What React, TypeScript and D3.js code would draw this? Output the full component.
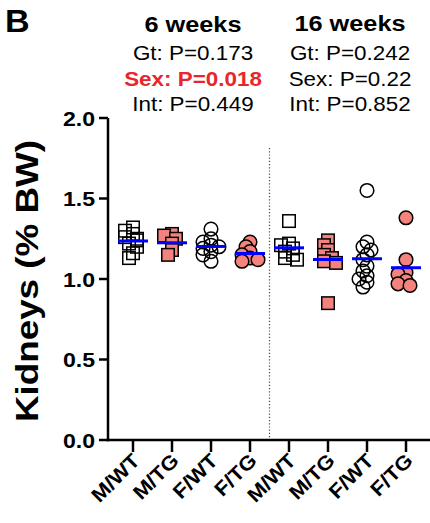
import React from "react";
import * as d3 from "d3";

const categories = ["M/WT", "M/TG", "F/WT", "F/TG", "M/WT ", "M/TG ", "F/WT ", "F/TG "];
const labels = ["M/WT", "M/TG", "F/WT", "F/TG", "M/WT", "M/TG", "F/WT", "F/TG"];
const shapes = ["square", "square", "circle", "circle", "square", "square", "circle", "circle"];
const filled = [false, true, false, true, false, true, false, true];

const mwt6 = [1.32, 1.30, 1.28, 1.26, 1.25, 1.24, 1.22, 1.20, 1.16, 1.13];
const mtg6 = [1.28, 1.27, 1.25, 1.22, 1.18, 1.15];
const fwt6 = [1.31, 1.25, 1.23, 1.21, 1.20, 1.19, 1.17, 1.15, 1.11];
const ftg6 = [1.23, 1.20, 1.17, 1.15, 1.13, 1.12, 1.11];
const mwt16 = [1.36, 1.22, 1.21, 1.19, 1.17, 1.15, 1.13, 1.12];
const mtg16 = [1.24, 1.21, 1.18, 1.15, 1.13, 1.11, 1.10, 0.85];
const fwt16 = [1.55, 1.23, 1.20, 1.18, 1.15, 1.12, 1.08, 1.05, 1.02, 1.00, 0.98, 0.95];
const ftg16 = [1.38, 1.12, 1.04, 1.03, 0.99, 0.97, 0.96];
const series = [mwt6, mtg6, fwt6, ftg6, mwt16, mtg16, fwt16, ftg16];

const yTicks = [0, 0.5, 1.0, 1.5, 2.0];
const titles = ["6 weeks", "16 weeks"];
const stats6 = ["Gt: P=0.173", "Sex: P=0.018", "Int: P=0.449"];
const stats16 = ["Gt: P=0.242", "Sex: P=0.22", "Int: P=0.852"];
const highlight6 = [false, true, false];
const highlight16 = [false, false, false];

const FONT = "'Liberation Sans', Arial, Helvetica, sans-serif";
const PINK = "#f4837d";
const BLUE = "#0000ff";

function T(props: any) {
  const { x, y, rot = 0, sx = 1.15, anchor = "start", size, weight = "normal", fill = "#000", children } = props;
  return (
    <text
      transform={`translate(${x},${y}) rotate(${rot}) scale(${sx},1)`}
      textAnchor={anchor}
      fontSize={size}
      fontWeight={weight}
      fill={fill}
      fontFamily={FONT}
    >
      {children}
    </text>
  );
}

function swarm(vals: number[], y: (v: number) => number, minDist: number, step: number, maxOff: number) {
  const idx = vals.map((v, i) => i).sort((a, b) => vals[b] - vals[a]);
  const placed: { x: number; y: number }[] = [];
  const out: number[] = new Array(vals.length).fill(0);
  for (const i of idx) {
    const py = y(vals[i]);
    let chosen = 0;
    let found = false;
    for (let k = 0; k <= Math.round(maxOff / step) * 2; k++) {
      const off = (k % 2 === 0 ? 1 : -1) * Math.ceil(k / 2) * step;
      const ok = placed.every((p) => Math.hypot(p.x - off, p.y - py) >= minDist);
      if (ok) {
        chosen = off;
        found = true;
        break;
      }
    }
    if (!found) chosen = ((placed.length % 3) - 1) * step;
    placed.push({ x: chosen, y: py });
    out[i] = chosen;
  }
  return out;
}

export default function App() {
  const W = 430;
  const H = 523;
  const axisX = 108;
  const axisY = 440;
  const y = d3.scaleLinear().domain([0, 2]).range([440, 118]);
  const x = d3.scalePoint<string>().domain(categories).range([133, 406]);
  const divider = (x(categories[3])! + x(categories[4])!) / 2;
  const sq = 12.5;
  const r = 6.8;
  const meanHalf = 15;

  return (
    <svg width={W} height={H} style={{ position: "fixed", left: 0, top: 0, background: "#fff" }}>
      <rect width={W} height={H} fill="#fff" />
      <T x={5} y={32} size={31} weight="bold" sx={1.1}>B</T>

      <T x={193} y={32} size={22} weight="bold" anchor="middle">{titles[0]}</T>
      <T x={350} y={31} size={22} weight="bold" anchor="middle">{titles[1]}</T>
      {stats6.map((s, i) => (
        <T key={"a" + i} x={193} y={60 + i * 25.5} size={19.5} anchor="middle"
          weight={highlight6[i] ? "bold" : "normal"} fill={highlight6[i] ? "#e8262b" : "#000"}>{s}</T>
      ))}
      {stats16.map((s, i) => (
        <T key={"b" + i} x={350} y={60 + i * 25.5} size={19.5} anchor="middle"
          weight={highlight16[i] ? "bold" : "normal"} fill={highlight16[i] ? "#e8262b" : "#000"}>{s}</T>
      ))}

      <line x1={divider} x2={divider} y1={148} y2={axisY} stroke="#444" strokeWidth={1.2} strokeDasharray="1.2,2" />

      <line x1={axisX} x2={axisX} y1={y(2)} y2={axisY + 1.25} stroke="#000" strokeWidth={2.5} />
      {yTicks.map((t) => (
        <g key={t}>
          <line x1={axisX - 9} x2={axisX} y1={y(t)} y2={y(t)} stroke="#000" strokeWidth={2.5} />
          <T x={axisX - 13} y={y(t) + 7.5} size={21} weight="bold" anchor="end" sx={1.1}>{t.toFixed(1)}</T>
        </g>
      ))}
      <T x={38} y={(y(0) + y(2)) / 2 + 2} size={32} weight="bold" anchor="middle" rot={-90}>Kidneys (% BW)</T>

      <line x1={axisX - 1.25} x2={W} y1={axisY} y2={axisY} stroke="#000" strokeWidth={2.5} />
      {categories.map((c, i) => (
        <g key={c}>
          <line x1={x(c)} x2={x(c)} y1={axisY} y2={axisY + 12} stroke="#000" strokeWidth={2.5} />
          <T x={x(c)! + 8} y={axisY + 22} size={20} weight="bold" anchor="end" rot={-45} sx={1.1}>{labels[i]}</T>
        </g>
      ))}

      {series.map((vals, gi) => {
        const cx = x(categories[gi])!;
        const offs = swarm(vals, (v) => y(v), 6, 4, 9);
        const fill = filled[gi] ? PINK : "none";
        return (
          <g key={"g" + gi}>
            {vals.map((v, i) =>
              shapes[gi] === "square" ? (
                <rect key={i} x={cx + offs[i] - sq / 2} y={y(v) - sq / 2} width={sq} height={sq}
                  fill={fill} stroke="#000" strokeWidth={1.5} />
              ) : (
                <circle key={i} cx={cx + offs[i]} cy={y(v)} r={r} fill={filled[gi] ? PINK : "none"}
                  stroke="#000" strokeWidth={1.5} />
              )
            )}
            <line x1={cx - meanHalf} x2={cx + meanHalf} y1={y(d3.mean(vals)!)} y2={y(d3.mean(vals)!)}
              stroke={BLUE} strokeWidth={3} />
          </g>
        );
      })}
    </svg>
  );
}
